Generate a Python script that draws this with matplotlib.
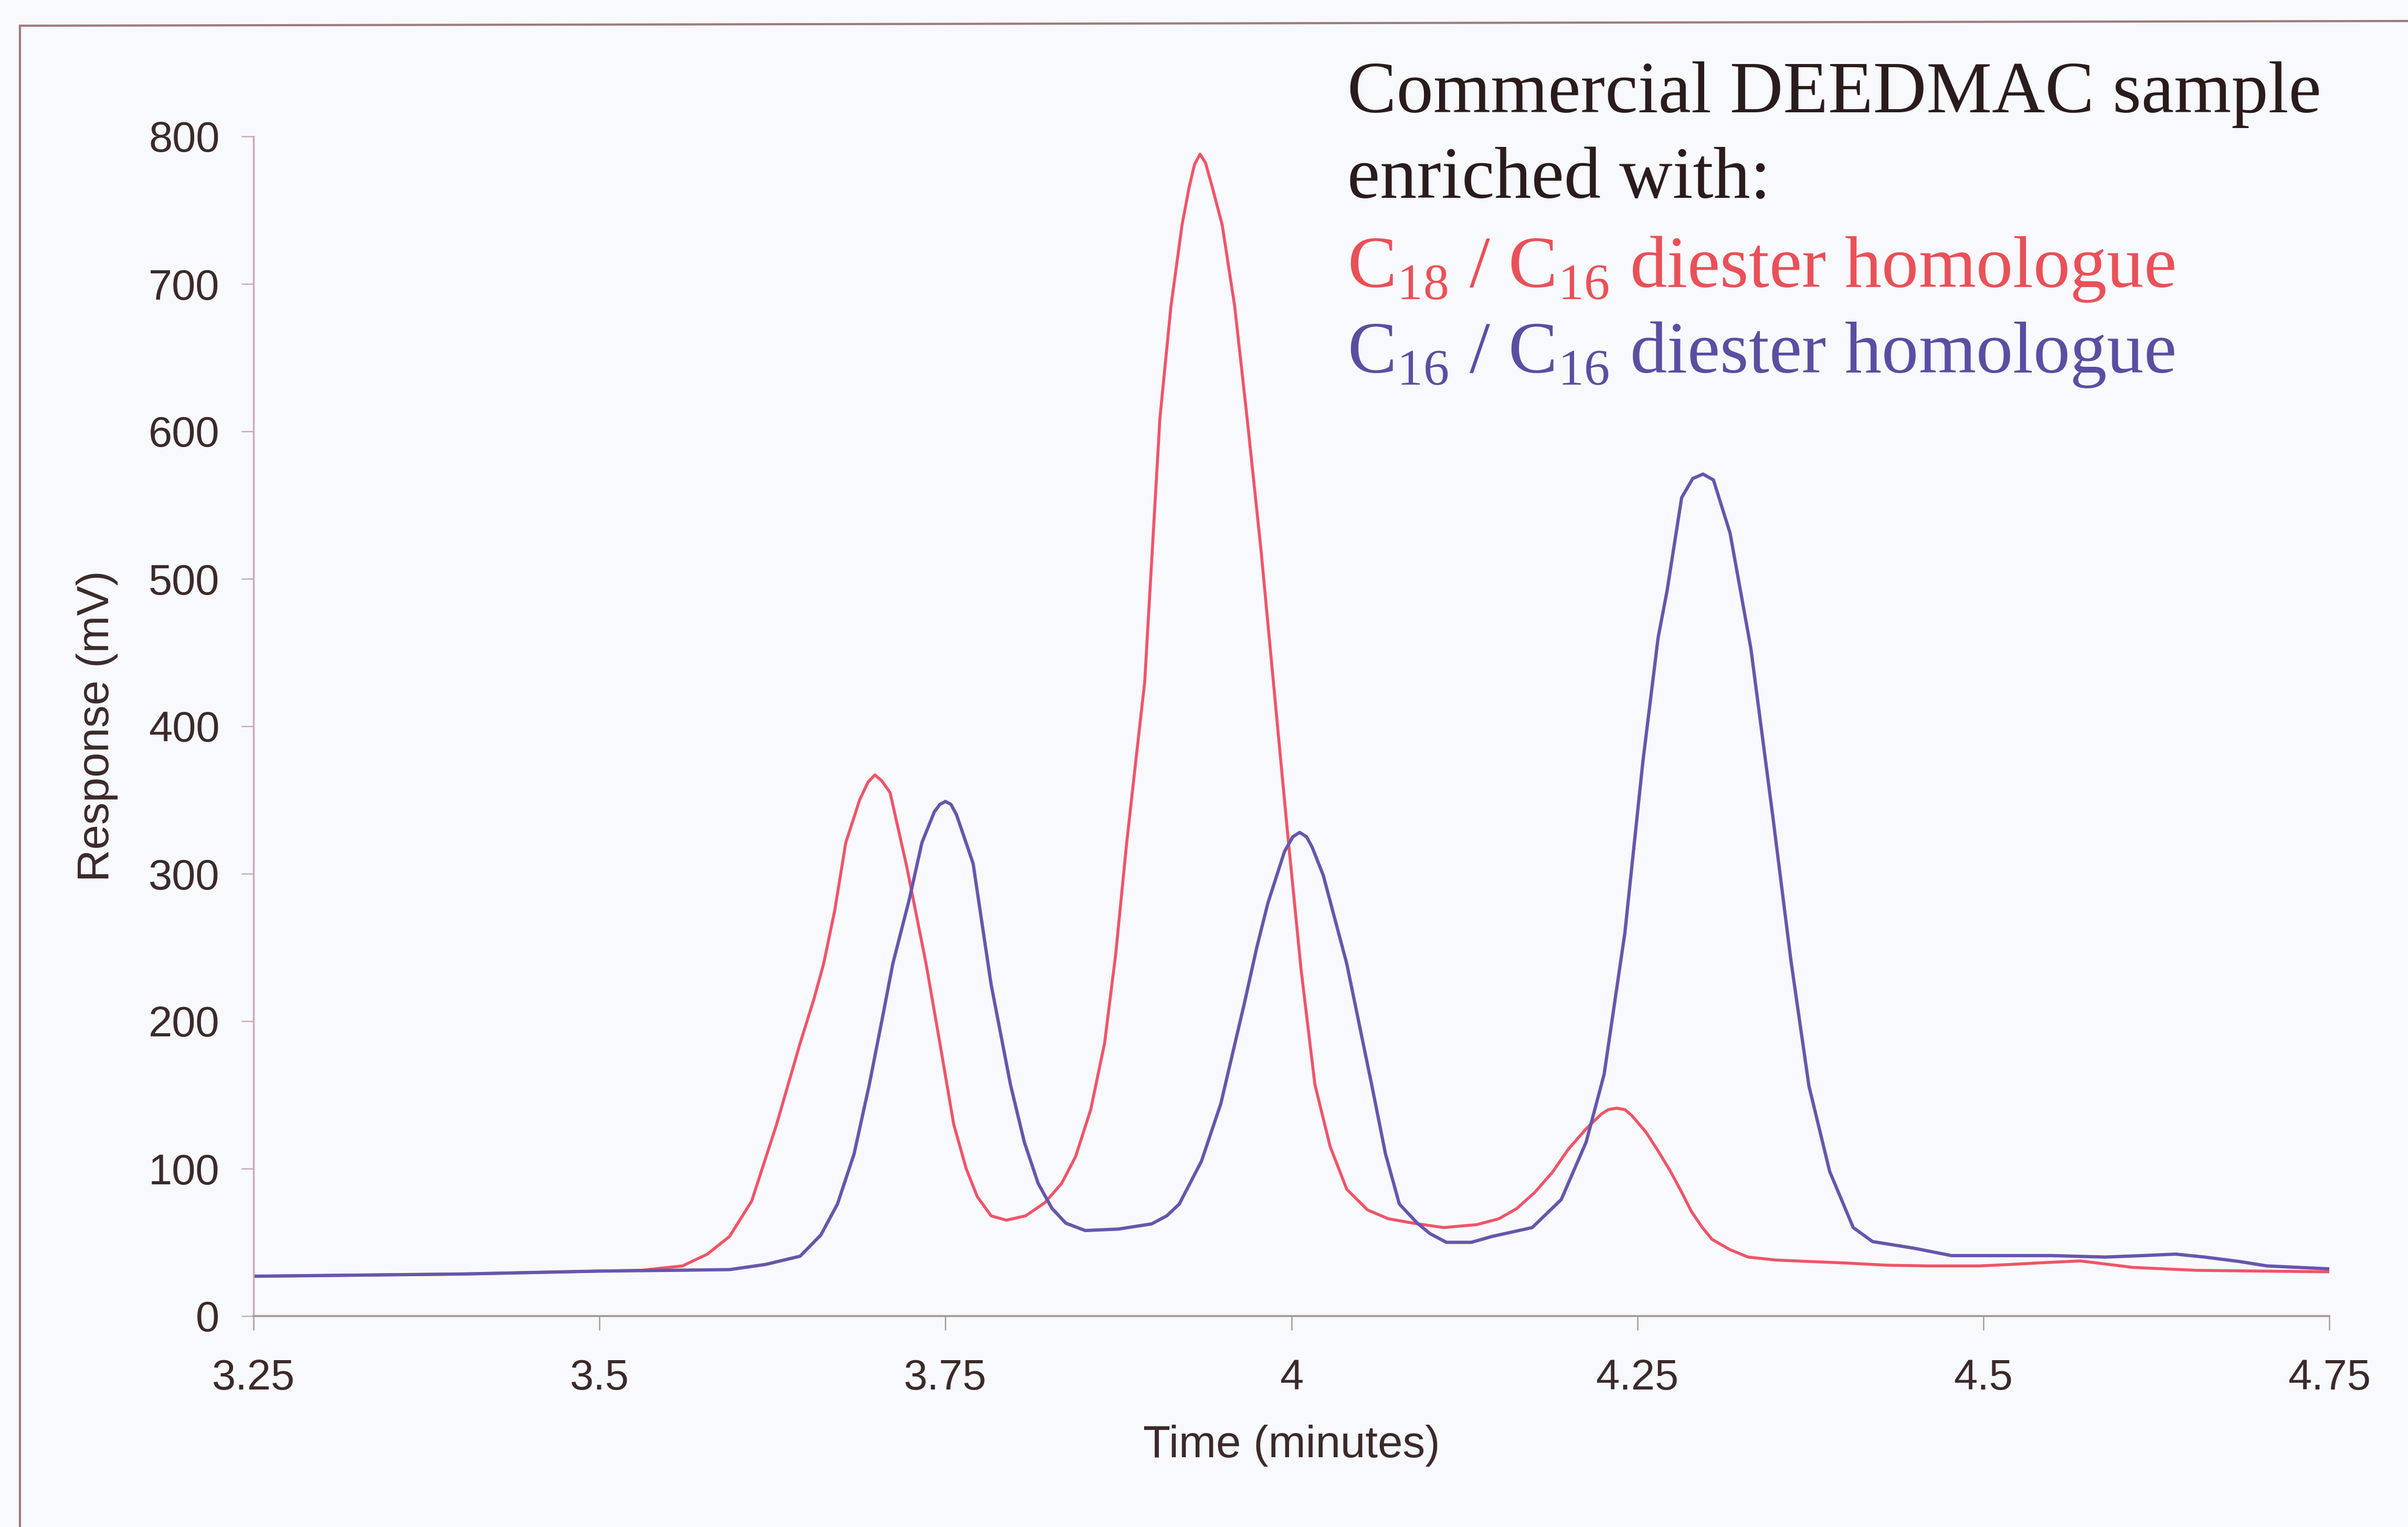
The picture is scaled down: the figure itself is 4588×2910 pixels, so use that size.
import matplotlib
matplotlib.use("Agg")
import matplotlib.pyplot as plt
from matplotlib.lines import Line2D

# Retention time (minutes) and detector response (mV) for each trace
time_c18_c16 = [3.25, 3.30, 3.35, 3.40, 3.45, 3.50, 3.53, 3.56, 3.578, 3.594,
                3.61, 3.628, 3.645, 3.655, 3.662, 3.670, 3.678, 3.688, 3.694, 3.699,
                3.704, 3.71, 3.722, 3.736, 3.746, 3.756, 3.765, 3.773, 3.783, 3.794,
                3.808, 3.822, 3.834, 3.844, 3.855, 3.865, 3.873, 3.881, 3.888, 3.894,
                3.905, 3.913, 3.921, 3.926, 3.930, 3.934, 3.938, 3.943, 3.950, 3.959,
                3.968, 3.978, 3.987, 3.997, 4.007, 4.017, 4.028, 4.040, 4.055, 4.070,
                4.088, 4.110, 4.134, 4.150, 4.163, 4.176, 4.189, 4.200, 4.213, 4.224,
                4.229, 4.235, 4.241, 4.246, 4.256, 4.265, 4.274, 4.282, 4.289, 4.297,
                4.304, 4.317, 4.330, 4.350, 4.374, 4.40, 4.43, 4.46, 4.497, 4.52,
                4.539, 4.57, 4.608, 4.654, 4.70, 4.75]
resp_c18_c16 = [27, 27.5, 28, 28.5, 29.5, 30.5, 31, 34, 42, 54,
                78, 130, 185, 215, 239, 275, 321, 350, 362, 367,
                363, 355, 305, 239, 185, 130, 100, 81, 68, 65,
                68, 77, 90, 108, 140, 185, 245, 321, 380, 430,
                609, 685, 740, 765, 781, 788, 782, 765, 740, 685,
                609, 520, 430, 330, 235, 157, 115, 86, 72, 66,
                63, 60, 62, 66, 73, 84, 98, 113, 127, 137,
                140, 141, 140, 136, 125, 112, 98, 84, 71, 60,
                52, 45, 40, 38, 37, 36, 34.5, 34, 34, 35,
                36, 37.4, 33, 31, 30.5, 30]

time_c16_c16 = [3.25, 3.30, 3.35, 3.40, 3.45, 3.50, 3.55, 3.594, 3.62, 3.645,
                3.66, 3.672, 3.684, 3.695, 3.704, 3.712, 3.724, 3.733, 3.742, 3.746,
                3.75, 3.754, 3.758, 3.77, 3.783, 3.797, 3.807, 3.817, 3.827, 3.837,
                3.851, 3.875, 3.899, 3.91, 3.919, 3.935, 3.949, 3.966, 3.975, 3.983,
                3.995, 4.001, 4.006, 4.011, 4.015, 4.023, 4.04, 4.058, 4.068, 4.078,
                4.091, 4.10, 4.112, 4.13, 4.145, 4.174, 4.195, 4.213, 4.226, 4.241,
                4.254, 4.265, 4.2715, 4.282, 4.29, 4.2975, 4.305, 4.317, 4.332, 4.348,
                4.361, 4.374, 4.389, 4.406, 4.42, 4.45, 4.477, 4.55, 4.588, 4.615,
                4.639, 4.66, 4.685, 4.705, 4.75]
resp_c16_c16 = [27, 27.5, 28, 28.5, 29.5, 30.5, 31, 31.5, 35, 40.6,
                55, 76, 110, 157, 200, 239, 283, 321, 342, 347,
                349, 347, 340, 307, 225, 157, 118, 90, 73, 63,
                58, 59, 62.5, 68, 76, 105, 144, 212, 250, 280,
                315, 325, 328, 325, 318, 299, 239, 157, 110, 76,
                63, 56, 50, 50, 54, 60, 79, 118, 164, 260,
                376, 460, 492, 555, 568, 571, 567, 531, 453, 338,
                241, 156, 98, 60, 50.5, 46, 41, 41, 40, 41,
                42, 40, 37, 34, 32]

x_ticks = [3.25, 3.5, 3.75, 4.0, 4.25, 4.5, 4.75]
x_tick_labels = ["3.25", "3.5", "3.75", "4", "4.25", "4.5", "4.75"]
y_ticks = [0, 100, 200, 300, 400, 500, 600, 700, 800]

title_lines = ["Commercial DEEDMAC sample", "enriched with:"]
series_labels = [r"C$_\mathregular{18}$ / C$_\mathregular{16}$ diester homologue",
                 r"C$_\mathregular{16}$ / C$_\mathregular{16}$ diester homologue"]

RED = "#ef5468"
BLUE = "#6656ac"
TEXT = "#3b2a2a"
SPINE_Y = "#c9aab8"
SPINE_X = "#a89a9a"

plt.rcParams["mathtext.fontset"] = "custom"
plt.rcParams["mathtext.rm"] = "Liberation Serif"

W, H = 4588, 2910
DPI = 300
fig = plt.figure(figsize=(W / DPI, H / DPI), dpi=DPI, facecolor="#f8f9fd")

ax = fig.add_axes([483 / W, 1 - 2508 / H, (4438 - 483) / W, (2508 - 260) / H])
ax.set_facecolor("none")

ax.plot(time_c18_c16, resp_c18_c16, color=RED, lw=1.35,
        solid_joinstyle="round", solid_capstyle="round")
ax.plot(time_c16_c16, resp_c16_c16, color=BLUE, lw=1.5,
        solid_joinstyle="round", solid_capstyle="round")

ax.set_xlim(3.25, 4.75)
ax.set_ylim(0, 800)
ax.set_xticks(x_ticks)
ax.set_xticklabels(x_tick_labels)
ax.set_yticks(y_ticks)

for side in ("top", "right"):
    ax.spines[side].set_visible(False)
ax.spines["left"].set_color(SPINE_Y)
ax.spines["bottom"].set_color(SPINE_X)
ax.spines["left"].set_linewidth(0.8)
ax.spines["bottom"].set_linewidth(0.9)

ax.tick_params(axis="x", direction="out", length=6.5, width=0.6, color=SPINE_X,
               pad=13, labelsize=19.5, labelcolor=TEXT)
ax.tick_params(axis="y", direction="out", length=5.5, width=0.6, color=SPINE_Y,
               pad=10, labelsize=19.5, labelcolor=TEXT)
for lab in ax.get_xticklabels() + ax.get_yticklabels():
    lab.set_fontfamily("Liberation Sans")

ax.set_xlabel("Time (minutes)", fontsize=20.5, family="Liberation Sans",
              color=TEXT, labelpad=12)
ax.set_ylabel("Response (mV)", fontsize=20.5, family="Liberation Sans",
              color=TEXT, labelpad=14)

# Annotation block at upper right
tx = 2567 / W
baselines = [214, 377, 547, 710]
text_kw = dict(fontsize=33.7, family="Liberation Serif", va="baseline")
fig.text(tx, 1 - baselines[0] / H, title_lines[0], color="#2a1c1c", **text_kw)
fig.text(tx, 1 - baselines[1] / H, title_lines[1], color="#2a1c1c", **text_kw)
fig.text(tx, 1 - baselines[2] / H, series_labels[0], color="#ea5058", **text_kw)
fig.text(tx, 1 - baselines[3] / H, series_labels[1], color="#5a4ea2", **text_kw)

# Outer frame around the figure panel
frame_kw = dict(transform=fig.transFigure, color="#9c7c7c", lw=1.0)
fig.add_artist(Line2D([38 / W, 38 / W], [0, 1 - 49 / H], **frame_kw))
fig.add_artist(Line2D([38 / W, 1], [1 - 49 / H, 1 - 40 / H], **frame_kw))

fig.savefig("out.png", dpi=DPI, facecolor=fig.get_facecolor())
